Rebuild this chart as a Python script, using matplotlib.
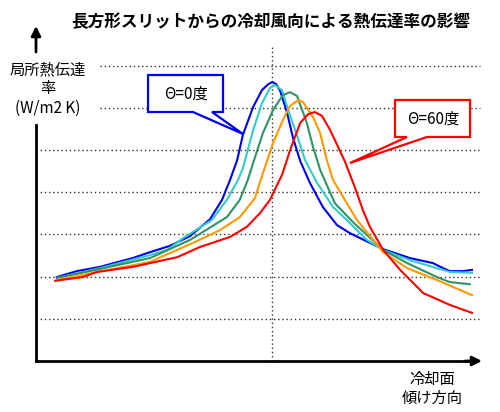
import matplotlib
matplotlib.use('Agg')
import matplotlib.pyplot as plt
from matplotlib.patches import Polygon

plt.rcParams['font.family'] = ['Noto Sans CJK JP', 'DejaVu Sans']

# data (x: 0..100 along axis, y: grid units)
blue_x = [4.7, 9.2, 14.4, 21.8, 25.7, 30.2, 34.7, 39.2, 41.9, 43.7, 45.3, 46.6, 48.9, 50.9, 52.3, 53.2, 54.1,
          55.0, 56.5, 57.9, 59.5, 61.7, 64.6, 67.8, 70.7, 75.2, 78.2, 84.2, 89.4, 91.7, 93.2, 96.2, 98.2]
blue_y = [1.99, 2.13, 2.23, 2.44, 2.58, 2.73, 2.96, 3.36, 3.82, 4.29, 4.76, 5.36, 6.02, 6.42, 6.56, 6.61, 6.56,
          6.40, 5.90, 5.28, 4.74, 4.22, 3.65, 3.22, 3.03, 2.80, 2.65, 2.44, 2.32, 2.20, 2.13, 2.13, 2.16]
cyan_x = [4.7, 14.4, 25.7, 29.5, 33.1, 39.6, 43.0, 45.5, 46.6, 48.9, 50.9, 52.7, 53.8, 55.4, 56.8, 58.6, 60.6,
          63.3, 66.9, 70.0, 74.5, 78.2, 84.2, 90.3, 93.2, 98.2]
cyan_y = [1.97, 2.20, 2.51, 2.63, 2.91, 3.34, 3.82, 4.29, 4.57, 5.47, 6.11, 6.47, 6.54, 6.42, 5.95, 5.40, 4.76,
          4.22, 3.65, 3.34, 2.87, 2.63, 2.39, 2.20, 2.11, 2.09]
green_x = [4.7, 14.4, 25.7, 34.7, 43.0, 45.9, 47.7, 48.9, 51.1, 53.4, 55.6, 57.2, 58.8, 61.0, 62.4, 64.0, 67.3,
           71.4, 78.2, 83.6, 90.3, 93.2, 97.7]
green_y = [1.97, 2.18, 2.44, 2.87, 3.41, 3.82, 4.29, 4.69, 5.40, 5.95, 6.30, 6.37, 6.28, 5.64, 5.07, 4.53, 3.74,
           3.29, 2.63, 2.32, 1.99, 1.87, 1.82]
orange_x = [4.7, 21.8, 25.7, 35.4, 41.4, 45.9, 49.3, 51.1, 53.4, 55.6, 57.2, 59.0, 60.1, 62.4, 64.0, 65.5, 66.9,
            70.0, 72.3, 78.2, 83.6, 90.3, 98.2]
orange_y = [1.92, 2.27, 2.35, 2.80, 3.10, 3.41, 3.86, 4.45, 5.17, 5.71, 6.04, 6.18, 6.14, 5.78, 5.40, 4.76, 4.29,
            3.74, 3.34, 2.58, 2.20, 1.92, 1.56]
red_x = [4.3, 10.6, 13.7, 21.8, 25.7, 31.8, 36.9, 43.7, 47.5, 50.5, 52.7, 55.4, 57.4, 59.5, 61.3, 62.8, 64.4,
         66.0, 67.3, 69.6, 71.8, 73.6, 75.2, 78.2, 82.0, 87.2, 93.2, 98.2]
red_y = [1.90, 1.99, 2.11, 2.23, 2.32, 2.46, 2.70, 2.94, 3.18, 3.51, 3.82, 4.41, 5.05, 5.64, 5.85, 5.90, 5.81,
         5.52, 5.24, 4.72, 4.12, 3.58, 3.18, 2.63, 2.16, 1.61, 1.33, 1.14]

series = [(blue_x, blue_y, '#0000ee'), (cyan_x, cyan_y, '#33cccc'), (green_x, green_y, '#2e9466'),
          (orange_x, orange_y, '#ff9900'), (red_x, red_y, '#ff0000')]
grid_levels = [1, 2, 3, 4, 5, 6, 7]
peak_x = 53.2

title = '長方形スリットからの冷却風向による熱伝達率の影響'
ylabel = '局所熱伝達\n率\n(W/m2 K)'
xlabel = '冷却面\n傾け方向'
label0 = 'Θ=0度'
label60 = 'Θ=60度'


def P(px, py):
    # pixel position -> data coords (layout helper)
    return ((px - 36) / 4.44, (361 - py) / 42.2)


fig = plt.figure(figsize=(5, 4.12), dpi=100)
ax = fig.add_axes([0, 0, 1, 1])
x0, y0 = P(0, 412)
x1, y1 = P(500, 0)
ax.set_xlim(x0, x1)
ax.set_ylim(y0, y1)
ax.axis('off')

# dotted grid
for g in grid_levels:
    xs = P(100, 0)[0] if g >= 6 else 0
    ax.plot([xs, 100], [g, g], color='#333333', lw=1, ls=(0, (1, 2)), zorder=1)
ax.plot([peak_x, peak_x], [0, P(0, 45)[1]], color='#333333', lw=1, ls=(0, (1, 2)), zorder=1)

for xs, ys, c in series:
    ax.plot(xs, ys, color=c, lw=1.5, zorder=3, solid_joinstyle='round')

# axes
ax.plot([0, 0], [0, P(0, 125)[1]], color='black', lw=2, zorder=4)
ax.plot([0, 98], [0, 0], color='black', lw=2, zorder=4)
ax.annotate('', xy=P(482, 361), xytext=P(465, 361),
            arrowprops=dict(arrowstyle='-|>', color='black', lw=2, mutation_scale=14, shrinkA=0, shrinkB=0))
ax.annotate('', xy=P(36, 26), xytext=P(36, 52),
            arrowprops=dict(arrowstyle='-|>', color='black', lw=2, mutation_scale=14, shrinkA=0, shrinkB=0))

ax.text(*P(271, 22), title, ha='center', va='center', fontsize=12, fontweight='bold')
ax.text(*P(48, 89), ylabel, ha='center', va='center', fontsize=11, linespacing=1.15)
ax.text(*P(432, 389), xlabel, ha='center', va='center', fontsize=11, linespacing=1.15)

# callouts
blue_box = [P(148, 75), P(223, 75), P(223, 112), P(212, 112), P(243, 134), P(193, 112), P(148, 112)]
ax.add_patch(Polygon(blue_box, closed=True, fc='white', ec='#0000ee', lw=1.6, zorder=5))
ax.text(*P(186, 94), label0, ha='center', va='center', fontsize=11, zorder=6)

red_box = [P(395, 100), P(470, 100), P(470, 137), P(427, 137), P(350, 163), P(407, 137), P(395, 137)]
ax.add_patch(Polygon(red_box, closed=True, fc='white', ec='#ff0000', lw=1.6, zorder=5))
ax.text(*P(433, 119), label60, ha='center', va='center', fontsize=11, zorder=6)

fig.savefig('out.png', dpi=100)
